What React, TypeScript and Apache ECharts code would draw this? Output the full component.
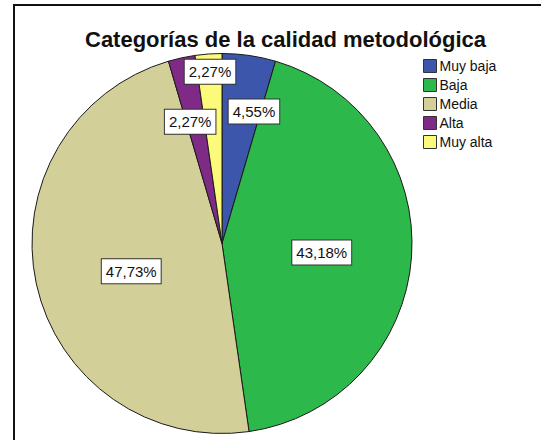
import React, { useEffect, useRef } from "react";
import * as echarts from "echarts";

const categories = ["Muy baja", "Baja", "Media", "Alta", "Muy alta"];
const counts = [2, 19, 21, 1, 1];
const colors = ["#3C56AB", "#2DB84B", "#D3CF99", "#7E2A86", "#FCFA7B"];
const labelOffsets = [
  [18, -35],
  [2, 2],
  [5, 7],
  [-11, -26],
  [-5, -74],
];

export default function App() {
  const ref = useRef<HTMLDivElement>(null);
  useEffect(() => {
    if (!ref.current) return;
    const chart = echarts.init(ref.current, null, { renderer: "svg" });
    const total = counts.reduce((a, b) => a + b, 0);
    chart.setOption({
      animation: false,
      backgroundColor: "#ffffff",
      textStyle: { fontFamily: "Liberation Sans, Arial, sans-serif" },
      title: {
        text: "Categorías de la calidad metodológica",
        left: 85,
        top: 28,
        padding: 0,
        textStyle: {
          fontSize: 22,
          fontWeight: "bold",
          color: "#111",
          fontFamily: "Liberation Sans, Arial, sans-serif",
        },
      },
      legend: {
        orient: "vertical",
        left: 423,
        top: 59,
        padding: 0,
        itemWidth: 13,
        itemHeight: 13,
        itemGap: 5,
        icon: "rect",
        itemStyle: { borderColor: "#333", borderWidth: 1 },
        textStyle: {
          fontSize: 14,
          color: "#111",
          padding: [0, 0, 0, -2],
          fontFamily: "Liberation Sans, Arial, sans-serif",
        },
        data: categories,
      },
      graphic: [
        {
          type: "rect",
          shape: { x: 14, y: 5, width: 600, height: 500 },
          style: { fill: "none", stroke: "#111", lineWidth: 2 },
          silent: true,
          z: -1,
        },
      ],
      series: [
        {
          type: "pie",
          center: [222, 243.5],
          radius: [0, 190],
          startAngle: 90,
          clockwise: true,
          avoidLabelOverlap: false,
          itemStyle: { borderColor: "#1a1a1a", borderWidth: 1 },
          label: {
            show: true,
            position: "inside",
            formatter: (p: any) =>
              ((p.value / total) * 100).toFixed(2).replace(".", ",") + "%",
            fontSize: 15,
            color: "#111",
            backgroundColor: "#ffffff",
            borderColor: "#333",
            borderWidth: 1,
            padding: [4, 4, 3, 4],
            lineHeight: 17,
            fontFamily: "Liberation Sans, Arial, sans-serif",
          },
          labelLine: { show: false },
          labelLayout: (p: any) => ({
            dx: labelOffsets[p.dataIndex][0],
            dy: labelOffsets[p.dataIndex][1],
          }),
          emphasis: { disabled: true },
          data: categories.map((name, i) => ({
            name,
            value: counts[i],
            itemStyle: { color: colors[i] },
          })),
        },
      ],
    });
    return () => chart.dispose();
  }, []);
  return (
    <div
      ref={ref}
      style={{ position: "absolute", left: 0, top: 0, width: 541, height: 440 }}
    />
  );
}
